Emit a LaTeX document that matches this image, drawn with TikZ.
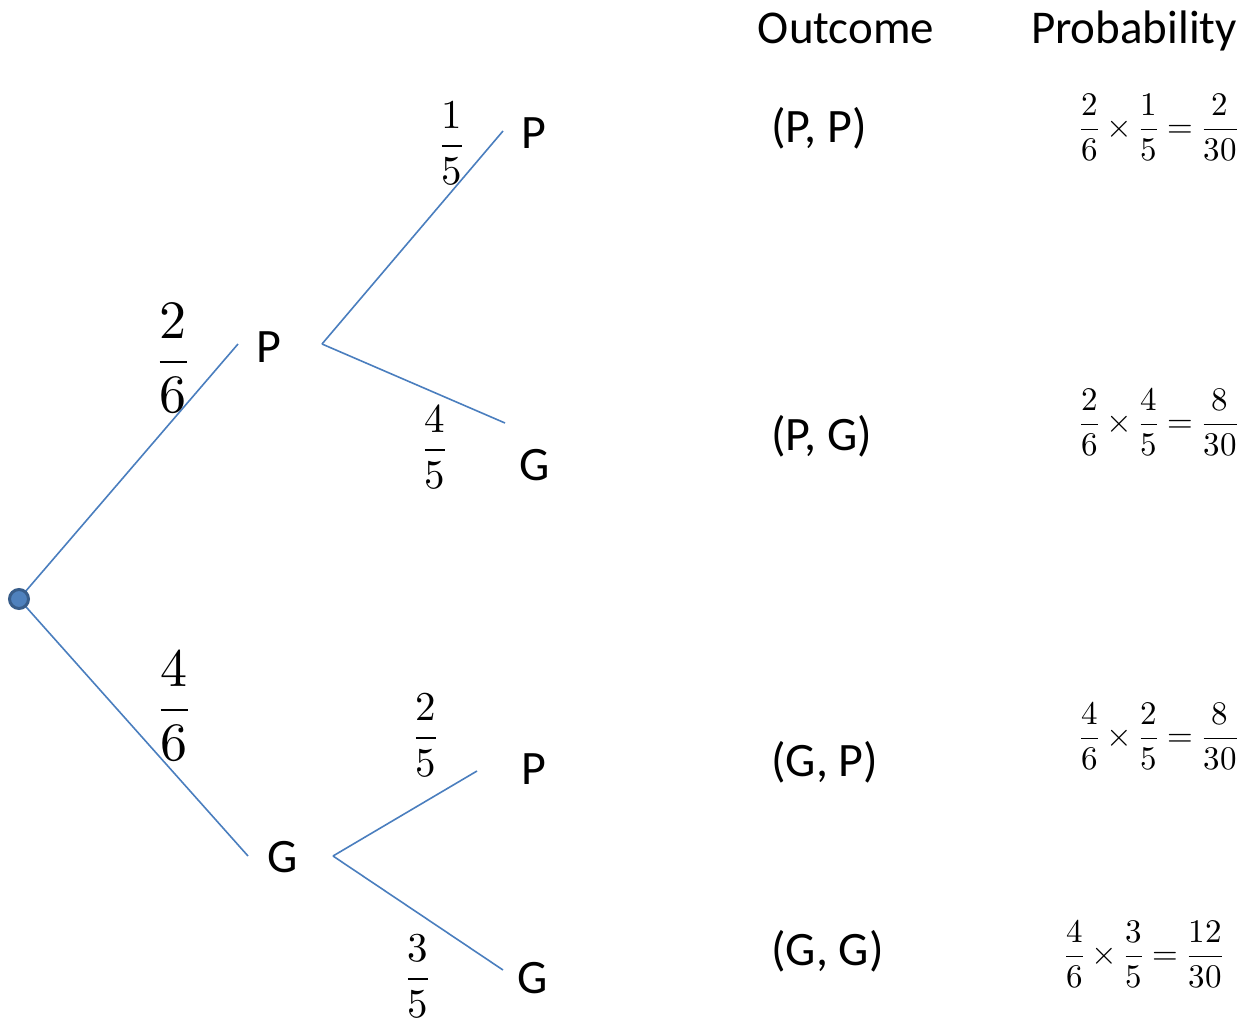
\documentclass[tikz,border=0pt]{standalone}
\usepackage{unicode-math}
\setmainfont{Carlito}
\setmathfont{Latin Modern Math}
\definecolor{brc}{RGB}{74,126,190}
\definecolor{dotfill}{RGB}{79,129,189}
\definecolor{dotdraw}{RGB}{56,93,138}
\begin{document}
\begin{tikzpicture}[x=1pt,y=-1pt,
  branch/.style={draw=brc,line width=1.6pt},
  lbl/.style={font=\fontsize{48}{56}\selectfont,inner sep=0,anchor=base west},
  head/.style={font=\fontsize{47}{55}\selectfont,inner sep=0,anchor=base},
  bigfrac/.style={font=\fontsize{54}{62}\selectfont,inner sep=0},
  midfrac/.style={font=\fontsize{41}{49}\selectfont,inner sep=0},
  prob/.style={font=\fontsize{33}{40}\selectfont,inner sep=0,anchor=east}]
\useasboundingbox (0,0) rectangle (1240,1025);
% branch end points
\coordinate (r) at (19,599);
\coordinate (pin) at (238,344);
\coordinate (pout) at (322,344);
\coordinate (gin) at (248,856);
\coordinate (gout) at (333,856);
\coordinate (ppin) at (503,131);
\coordinate (pgin) at (505,423);
\coordinate (gpin) at (477,771);
\coordinate (ggin) at (503,970);
% branches
\draw[branch] (r) -- (pin);
\draw[branch] (r) -- (gin);
\draw[branch] (pout) -- (ppin);
\draw[branch] (pout) -- (pgin);
\draw[branch] (gout) -- (gpin);
\draw[branch] (gout) -- (ggin);
\node[circle,fill=dotfill,draw=dotdraw,line width=3pt,minimum size=19pt,inner sep=0] (root) at (r) {};
% tree labels
\node[lbl] (lp) at (256,362) {P};
\node[lbl] (lg) at (267,872) {G};
\node[lbl] (lpp) at (521,148) {P};
\node[lbl] (lpg) at (519,480) {G};
\node[lbl] (lgp) at (521,784) {P};
\node[lbl] (lgg) at (517,993) {G};
% branch probabilities
\node[bigfrac] (f1) at (173,358) {$\dfrac{2}{6}$};
\node[bigfrac] (f2) at (174,706) {$\dfrac{4}{6}$};
\node[midfrac] (f3) at (452,143) {$\dfrac{1}{5}$};
\node[midfrac] (f4) at (435,447) {$\dfrac{4}{5}$};
\node[midfrac] (f5) at (426,735) {$\dfrac{2}{5}$};
\node[midfrac] (f6) at (418,976) {$\dfrac{3}{5}$};
% headers
\node[head] (ho) at (846,44) {Outcome};
\node[head] (hp) at (1134,44) {Probability};
% outcomes
\node[lbl] (o1) at (771,142) {(P, P)};
\node[lbl] (o2) at (771,450) {(P, G)};
\node[lbl] (o3) at (771,776) {(G, P)};
\node[lbl] (o4) at (771,965) {(G, G)};
% probabilities
\node[prob] (p1) at (1238,127) {$\dfrac{2}{6}\times\dfrac{1}{5}=\dfrac{2}{30}$};
\node[prob] (p2) at (1238,422) {$\dfrac{2}{6}\times\dfrac{4}{5}=\dfrac{8}{30}$};
\node[prob] (p3) at (1238,736) {$\dfrac{4}{6}\times\dfrac{2}{5}=\dfrac{8}{30}$};
\node[prob] (p4) at (1223,954) {$\dfrac{4}{6}\times\dfrac{3}{5}=\dfrac{12}{30}$};
\end{tikzpicture}
\end{document}
